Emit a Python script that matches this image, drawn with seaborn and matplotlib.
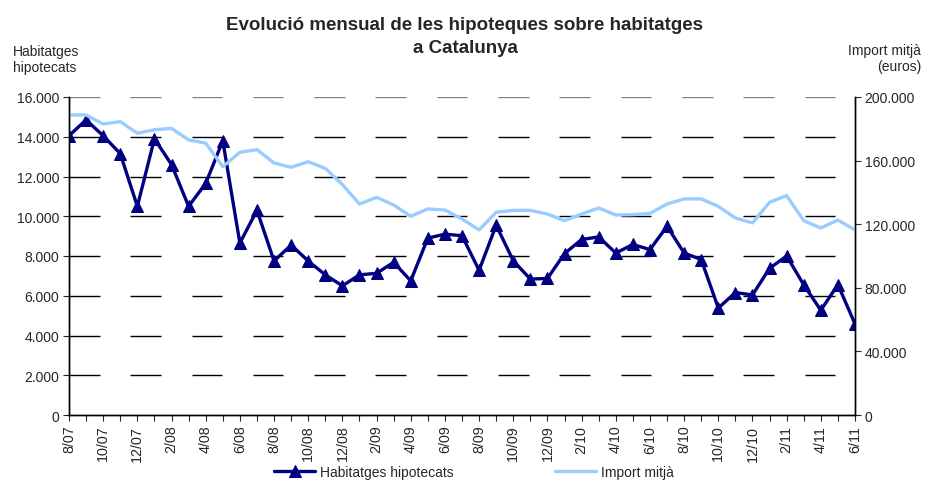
import numpy as np
import pandas as pd
import matplotlib
matplotlib.use("Agg")
import matplotlib.pyplot as plt
import seaborn as sns

# monthly data, 8/07 .. 6/11
months = ['8/07', '9/07', '10/07', '11/07', '12/07',
          '1/08', '2/08', '3/08', '4/08', '5/08', '6/08', '7/08', '8/08', '9/08', '10/08', '11/08', '12/08',
          '1/09', '2/09', '3/09', '4/09', '5/09', '6/09', '7/09', '8/09', '9/09', '10/09', '11/09', '12/09',
          '1/10', '2/10', '3/10', '4/10', '5/10', '6/10', '7/10', '8/10', '9/10', '10/10', '11/10', '12/10',
          '1/11', '2/11', '3/11', '4/11', '5/11', '6/11']

habitatges = [14050, 14850, 14050, 13150, 10500,
              13900, 12600, 10500, 11650, 13800, 8650, 10300, 7750, 8550, 7750, 7050, 6500,
              7050, 7130, 7680, 6750, 8900, 9100, 9020, 7280, 9550, 7760, 6840, 6870,
              8120, 8830, 8960, 8150, 8580, 8320, 9500, 8150, 7820, 5380, 6160, 6040,
              7380, 8000, 6550, 5270, 6560, 4580]

import_mitja = [188700, 188700, 183000, 184500, 177200,
                179400, 180300, 173000, 171000, 156200, 165200, 166900, 158500, 155800, 159300, 155100, 145000,
                132700, 136900, 132100, 125000, 129600, 128900, 123300, 116400, 127500, 128700, 128700, 126400,
                122200, 126400, 130200, 125800, 126000, 126800, 132700, 135900, 135900, 131200, 123900, 120800,
                133800, 138000, 122200, 117600, 122600, 116400]

left_ticks = [0, 2000, 4000, 6000, 8000, 10000, 12000, 14000, 16000]
right_ticks = [0, 40000, 80000, 120000, 160000, 200000]


def fmt(v):
    return f"{v:,}".replace(",", ".")


df = pd.DataFrame({'idx': np.arange(len(months)), 'hab': habitatges, 'imp': import_mitja})

sns.set_style("white")
plt.rcParams['font.family'] = ['Liberation Sans', 'DejaVu Sans']

fig = plt.figure(figsize=(9.25, 4.81), dpi=100)
ax = fig.add_axes([69 / 925, 1 - 416 / 481, (855 - 69) / 925, (416 - 98) / 481])
ax2 = ax.twinx()

navy = '#000080'
light = '#99CCFF'

n = len(months)

# long-dash gridlines at the left axis ticks, built as solid segments
# (about 30 px on / 31 px off, starting at the left spine)
px_per_unit = ax.bbox.width / (n - 1)
period = 61.3 / px_per_unit
dash = 30.5 / px_per_unit
starts = np.arange(0, n - 1, period)
ends = np.minimum(starts + dash, n - 1)
for v in left_ticks[1:]:
    ax.hlines([v] * len(starts), starts, ends, colors='#808080' if v == left_ticks[-1] else 'black',
              linewidth=1.0, zorder=0.5)

sns.lineplot(data=df, x='idx', y='hab', ax=ax, color=navy, linewidth=2.4,
             marker='^', markersize=8, markeredgecolor=navy, label='Habitatges hipotecats', legend=False)
sns.lineplot(data=df, x='idx', y='imp', ax=ax2, color=light, linewidth=2.4,
             label='Import mitjà', legend=False)

ax.set_xlim(0, n - 1)
ax.set_ylim(0, 16000)
ax2.set_ylim(0, 200000)

ax.set_yticks(left_ticks)
ax.set_yticklabels([fmt(v) for v in left_ticks], fontsize=10)
ax2.set_yticks(right_ticks)
ax2.set_yticklabels([fmt(v) for v in right_ticks], fontsize=10)
ax.grid(False)
ax2.grid(False)

ax.set_xticks(np.arange(n), minor=True)
ax.set_xticks(np.arange(0, n, 2))
ax.set_xticklabels(months[::2], rotation=90, fontsize=10.3)
ax.tick_params(axis='x', which='both', direction='out', length=4, width=0.8, bottom=True, pad=3)
ax.tick_params(axis='y', direction='out', length=4, width=0.8, left=True, pad=3)
ax2.tick_params(axis='y', direction='out', length=4, width=0.8, right=True, pad=3)

ax.set_xlabel('')
ax.set_ylabel('')
ax2.set_ylabel('')

for a in (ax, ax2):
    a.spines['top'].set_visible(False)
    for s in ('left', 'right', 'bottom'):
        a.spines[s].set_color('black')
        a.spines[s].set_linewidth(1.0)

fig.text(465 / 925, 1 - 37 / 481, "Evolució mensual de les hipoteques sobre habitatges\na Catalunya",
         ha='center', va='center', fontsize=13.5, fontweight='bold', linespacing=1.4)
fig.text(13 / 925, 1 - 60 / 481, "Habitatges\nhipotecats", ha='left', va='center', fontsize=10,
         linespacing=1.2)
fig.text(921 / 925, 1 - 59 / 481, "Import mitjà\n(euros)", ha='right', va='center', fontsize=10,
         multialignment='right', linespacing=1.2)

h1, l1 = ax.get_legend_handles_labels()
h2, l2 = ax2.get_legend_handles_labels()
fig.legend(h1 + h2, l1 + l2, loc='center', bbox_to_anchor=(0.512, 1 - 473 / 481), ncol=2,
           frameon=False, fontsize=10, columnspacing=7.3, handlelength=3, handletextpad=0.3)

fig.savefig('out.png', dpi=100)
